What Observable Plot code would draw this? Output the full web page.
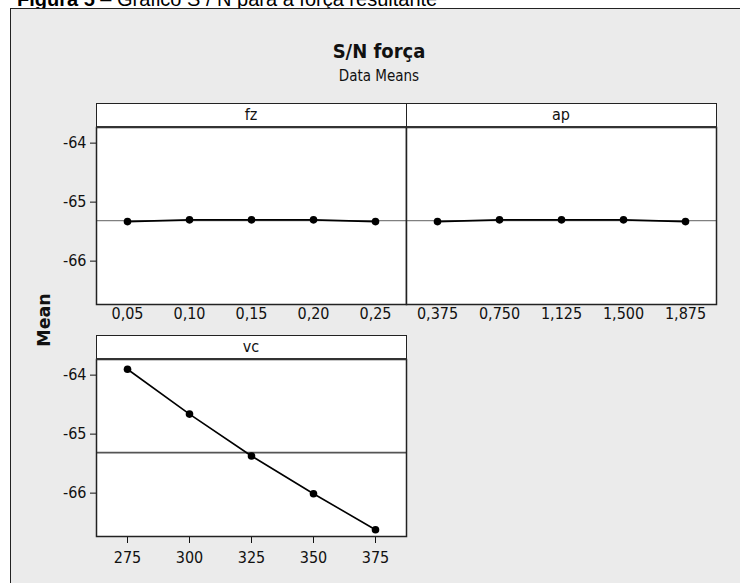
<!DOCTYPE html>
<html><head><meta charset="utf-8">
<script src="https://cdn.jsdelivr.net/npm/d3@7"></script>
<script src="https://cdn.jsdelivr.net/npm/@observablehq/plot@0.6"></script>
<style>
body{margin:0;background:#fff;overflow:hidden;}
#root{position:relative;width:740px;height:583px;overflow:hidden;font-family:"DejaVu Sans Condensed","DejaVu Sans",sans-serif;color:#111;}
.caption{position:absolute;left:17px;top:-13px;font-size:20px;line-height:24px;font-family:"Liberation Sans",Arial,sans-serif;white-space:nowrap;color:#000;}
.frame{position:absolute;left:10px;top:8px;width:760px;height:600px;background:#ebebeb;border-left:1.5px solid #222;border-top:1.5px solid #222;}
.title{position:absolute;left:229px;width:300px;text-align:center;font-weight:bold;font-size:20px;line-height:24px;top:39px;}
.subtitle{position:absolute;left:229px;width:300px;text-align:center;font-size:15px;line-height:18px;top:67px;}
.strip{position:absolute;box-sizing:border-box;height:25px;width:311px;background:#fff;border:1.5px solid #222;border-bottom:2px solid #333;text-align:center;font-size:16px;line-height:21px;}
.ylabel{position:absolute;left:44px;top:320px;transform:translate(-50%,-50%) rotate(-90deg);font-family:"DejaVu Sans",sans-serif;font-weight:bold;font-size:17.5px;white-space:nowrap;}
.panel{position:absolute;}
</style></head>
<body>
<div id="root">
  <div class="caption"><b>Figura 5</b> – Gráfico S / N para a força resultante</div>
  <div class="frame"></div>
  <div class="title">S/N força</div>
  <div class="subtitle">Data Means</div>
  <div class="ylabel">Mean</div>
</div>
<script>
// factor names
const factors = ["fz", "ap", "vc"];
// factor levels
const fzLevels = [0.05, 0.10, 0.15, 0.20, 0.25];
const apLevels = [0.375, 0.750, 1.125, 1.500, 1.875];
const vcLevels = [275, 300, 325, 350, 375];
// tick labels
const fzLabels = ["0,05", "0,10", "0,15", "0,20", "0,25"];
const apLabels = ["0,375", "0,750", "1,125", "1,500", "1,875"];
const vcLabels = ["275", "300", "325", "350", "375"];
// S/N means
const fzMeans = [-65.33, -65.30, -65.30, -65.30, -65.33];
const apMeans = [-65.33, -65.30, -65.30, -65.30, -65.33];
const vcMeans = [-63.90, -64.66, -65.37, -66.01, -66.62];
// y axis
const yTicks = [-64, -65, -66];
const yDomain = [-66.735, -63.735];

const grandMean = d3.mean(vcMeans);

function panel(levels, labels, values, showY, meanStroke, meanWidth, xTickSize, xTickPadding) {
  const step = levels[1] - levels[0];
  const data = levels.map((l, i) => ({x: l, y: values[i]}));
  return Plot.plot({
    width: 365, height: 212,
    marginLeft: 50, marginRight: 5, marginTop: 5, marginBottom: 30,
    style: {background: "transparent", fontFamily: '"DejaVu Sans Condensed","DejaVu Sans",sans-serif', fontSize: "16px", color: "#111", overflow: "visible"},
    x: {domain: [levels[0] - step / 2, levels[levels.length - 1] + step / 2], ticks: levels,
        tickFormat: d => labels[levels.indexOf(d)], tickSize: xTickSize, tickPadding: xTickPadding, label: null},
    y: {domain: yDomain, ticks: yTicks, tickFormat: d => String(d), tickSize: 6, tickPadding: 4,
        label: null, axis: showY ? "left" : null},
    marks: [
      Plot.frame({fill: "white"}),
      Plot.ruleY([grandMean], {stroke: meanStroke, strokeWidth: meanWidth}),
      Plot.line(data, {x: "x", y: "y", stroke: "#000", strokeWidth: 1.6}),
      Plot.dot(data, {x: "x", y: "y", r: 3.8, fill: "#000"}),
      Plot.frame({stroke: "#222", strokeWidth: 1.5})
    ]
  });
}

const root = document.getElementById("root");
const specs = [
  {name: factors[0], levels: fzLevels, labels: fzLabels, values: fzMeans, showY: true, left: 46, top: 122, stripTop: 103, ms: "#808080", mw: 1.2, ts: 0, tp: 3},
  {name: factors[1], levels: apLevels, labels: apLabels, values: apMeans, showY: false, left: 356, top: 122, stripTop: 103, ms: "#808080", mw: 1.2, ts: 0, tp: 3},
  {name: factors[2], levels: vcLevels, labels: vcLabels, values: vcMeans, showY: true, left: 46, top: 354, stripTop: 335, ms: "#555", mw: 1.8, ts: 7, tp: 8}
];
for (const s of specs) {
  const wrap = document.createElement("div");
  wrap.className = "panel";
  wrap.style.left = s.left + "px";
  wrap.style.top = s.top + "px";
  wrap.appendChild(panel(s.levels, s.labels, s.values, s.showY, s.ms, s.mw, s.ts, s.tp));
  root.appendChild(wrap);
  const strip = document.createElement("div");
  strip.className = "strip";
  strip.style.left = (s.left + 49.5) + "px";
  strip.style.top = s.stripTop + "px";
  strip.textContent = s.name;
  root.appendChild(strip);
}
</script>
</body></html>
